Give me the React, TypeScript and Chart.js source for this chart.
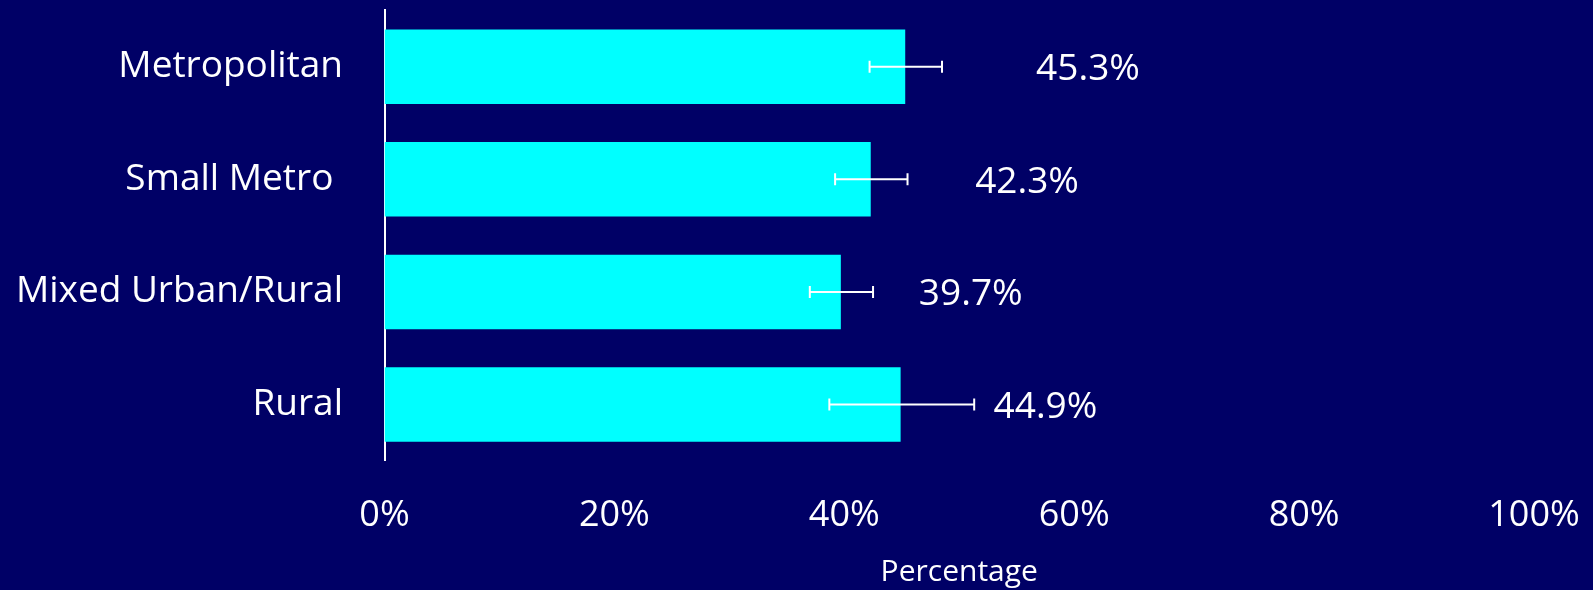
import React, { useEffect, useRef } from "react";
import { Chart, registerables } from "chart.js";

Chart.register(...registerables);

const categories = ["Metropolitan", "Small Metro ", "Mixed Urban/Rural", "Rural"];
const values = [45.3, 42.3, 39.7, 44.9];
const errLow = [42.2, 39.2, 37.0, 38.7];
const errHigh = [48.5, 45.5, 42.5, 51.3];
const valueLabels = ["45.3%", "42.3%", "39.7%", "44.9%"];
// where each value label is centred, in axis units (percent)
const labelAt = [61.2, 55.9, 51.0, 57.5];
const xMin = 0;
const xMax = 100;
const xStep = 20;
const xTitle = "Percentage";

const W = 1593;
const H = 590;
const BG = "#000066";
const FONT = "'Open Sans', 'Noto Sans', sans-serif";

const overlay = {
  id: "overlay",
  beforeDraw(chart: any) {
    const ctx = chart.ctx;
    ctx.save();
    ctx.fillStyle = BG;
    ctx.fillRect(0, 0, chart.width, chart.height);
    ctx.restore();
  },
  afterDatasetsDraw(chart: any) {
    const ctx = chart.ctx;
    const xs = chart.scales.x;
    const meta = chart.getDatasetMeta(0);
    ctx.save();
    ctx.strokeStyle = "#ffffff";
    ctx.lineWidth = 2;
    meta.data.forEach((bar: any, i: number) => {
      const y = bar.y;
      const a = xs.getPixelForValue(errLow[i]);
      const b = xs.getPixelForValue(errHigh[i]);
      ctx.beginPath();
      ctx.moveTo(a, y);
      ctx.lineTo(b, y);
      ctx.moveTo(a, y - 6);
      ctx.lineTo(a, y + 6);
      ctx.moveTo(b, y - 6);
      ctx.lineTo(b, y + 6);
      ctx.stroke();
      ctx.fillStyle = "#ffffff";
      ctx.font = `37px ${FONT}`;
      ctx.textAlign = "center";
      ctx.textBaseline = "middle";
      ctx.fillText(valueLabels[i], xs.getPixelForValue(labelAt[i]), y + 3);
    });
    ctx.restore();
  },
};

export default function App() {
  const ref = useRef<HTMLCanvasElement | null>(null);
  useEffect(() => {
    document.body.style.margin = "0";
    document.body.style.background = BG;
    const canvas = ref.current!;
    const chart = new Chart(canvas, {
      type: "bar",
      data: {
        labels: categories,
        datasets: [
          {
            data: values,
            backgroundColor: "#00ffff",
            borderWidth: 0,
            categoryPercentage: 1,
            barPercentage: 0.662,
          },
        ],
      },
      options: {
        indexAxis: "y",
        animation: false,
        responsive: false,
        devicePixelRatio: 1,
        layout: { padding: { top: 10.4, right: 59, left: 0, bottom: 0 } },
        plugins: {
          legend: { display: false },
          tooltip: { enabled: false },
        },
        scales: {
          x: {
            min: xMin,
            max: xMax,
            grid: { display: false, drawTicks: false },
            border: { display: false },
            ticks: {
              stepSize: xStep,
              color: "#ffffff",
              font: { family: FONT, size: 36 },
              padding: 33,
              maxRotation: 0,
              callback: (v: any) => `${v}%`,
            },
            title: {
              display: true,
              text: xTitle,
              color: "#ffffff",
              font: { family: FONT, size: 30 },
              padding: { top: 0, bottom: 0 },
            },
            afterFit: (s: any) => {
              s.height = 129.2;
              s.paddingLeft = 0;
              s.paddingRight = 0;
            },
          },
          y: {
            grid: { display: false, drawTicks: false },
            border: { display: true, color: "#ffffff", width: 2 },
            ticks: {
              color: "#ffffff",
              font: { family: FONT, size: 37 },
              padding: 41.5,
            },
            afterFit: (s: any) => {
              s.width = 384.5;
              s.paddingTop = 0;
              s.paddingBottom = 0;
            },
          },
        },
      } as any,
      plugins: [overlay],
    });
    return () => chart.destroy();
  }, []);
  return (
    <div style={{ width: W, height: H, background: BG }}>
      <canvas ref={ref} width={W} height={H} style={{ display: "block" }} />
    </div>
  );
}
